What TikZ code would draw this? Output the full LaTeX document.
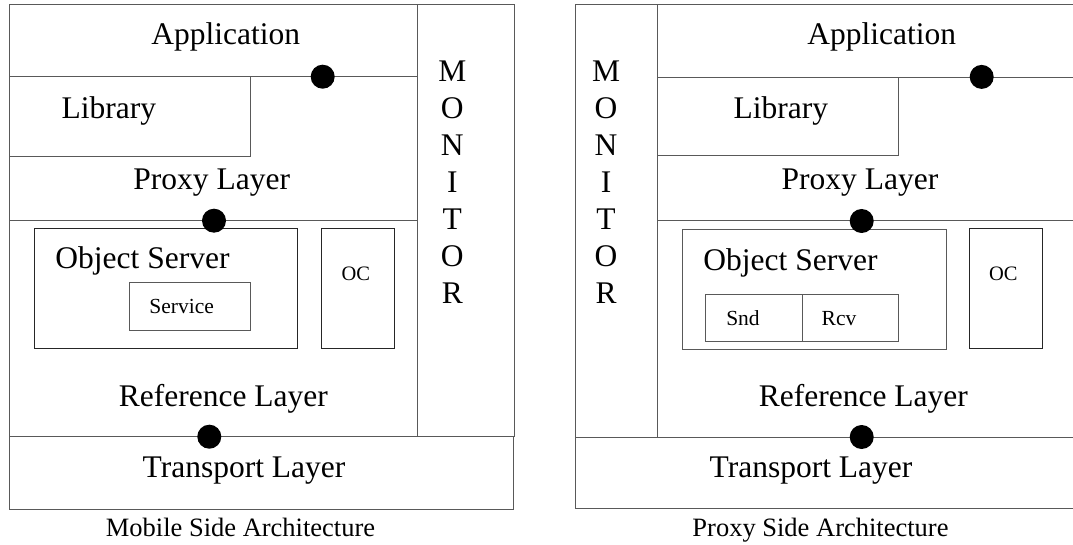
\documentclass[tikz,border=0pt]{standalone}
\usepackage{fontspec}
\setmainfont{Liberation Serif}
\begin{document}
\begin{tikzpicture}[x=1pt,y=-1pt,
  frame/.style={draw=black!65,line width=1pt},
  inner/.style={draw=black!85,line width=1pt},
  big/.style={font=\fontsize{31.5}{36}\selectfont,anchor=base,inner sep=0pt},
  small/.style={font=\fontsize{21.5}{24}\selectfont,anchor=base,inner sep=0pt},
  caption/.style={font=\fontsize{26.5}{30}\selectfont,anchor=base,inner sep=0pt},
  joint/.style={circle,fill=black,inner sep=0pt,minimum size=24pt}]
\useasboundingbox (0,0) rectangle (1073,545);
\clip (0,0) rectangle (1073,545);

% ---------------- Mobile side ----------------
\draw[frame] (9,4.7) rectangle (417.7,436.7);
\draw[frame] (9,76.7) -- (417.7,76.7);
\draw[frame] (9,76.7) rectangle (250,157);
\draw[frame] (9,220.7) -- (417.7,220.7);
\draw[frame] (417.7,5) rectangle (514.3,436.7);
\draw[frame] (9,436.7) rectangle (513.3,509);
\draw[inner] (34,228.7) rectangle (297.7,348.3);
\draw[inner] (321.7,228.7) rectangle (394,348.3);
\draw[frame] (129.7,282.7) rectangle (250,330.7);

\node[big] (mApp) at (225.8,45) {Application};
\node[big] (mLib) at (108.8,118.3) {Library};
\node[big] (mProxy) at (211.7,190) {Proxy Layer};
\node[big] (mObj) at (142.5,268.3) {Object Server};
\node[small] (mSvc) at (181.7,313.3) {Service};
\node[small,font=\fontsize{20.5}{24}\selectfont] (mOC) at (355.8,280.7) {OC};
\node[big] (mRef) at (223.3,406.7) {Reference Layer};
\node[big] (mTrans) at (244,477.7) {Transport Layer};
\node[caption] (mCap) at (240.5,536.7) {Mobile Side Architecture};
\foreach \l [count=\i from 0] in {M,O,N,I,T,O,R}
  \node[big] (mMon\i) at (452.3,81.8+36.9*\i) {\l};

\node[joint] (mJ1) at (322.7,76.7) {};
\node[joint] (mJ2) at (214,220.7) {};
\node[joint] (mJ3) at (209.3,436.7) {};

% ---------------- Proxy side ----------------
\draw[frame] (657.7,4.7) -- (1090,4.7);
\draw[frame] (657.7,77.3) -- (1090,77.3);
\draw[frame] (657.7,77.3) rectangle (898.3,155.3);
\draw[frame] (657.7,221) -- (1090,221);
\draw[frame] (575,4.7) rectangle (657.7,437);
\draw[frame] (575,437) -- (1090,437);
\draw[frame] (575,437) -- (575,508.7) -- (1090,508.7);
\draw[frame] (682,229.3) rectangle (946.7,349.3);
\draw[inner] (969.3,228.4) rectangle (1042.7,348.3);
\draw[frame] (705.7,294) rectangle (898.3,341.7);
\draw[frame] (802,294) -- (802,341.7);

\node[big] (pApp) at (881.7,45) {Application};
\node[big] (pLib) at (780.8,118.3) {Library};
\node[big] (pProxy) at (860,190) {Proxy Layer};
\node[big] (pObj) at (790.5,270) {Object Server};
\node[small] (pSnd) at (743,325) {Snd};
\node[small] (pRcv) at (839,325) {Rcv};
\node[small,font=\fontsize{20.5}{24}\selectfont] (pOC) at (1003.3,280.8) {OC};
\node[big] (pRef) at (863.3,406.7) {Reference Layer};
\node[big] (pTrans) at (811,477.7) {Transport Layer};
\node[caption] (pCap) at (820.5,536.7) {Proxy Side Architecture};
\foreach \l [count=\i from 0] in {M,O,N,I,T,O,R}
  \node[big] (pMon\i) at (606,81.7+36.9*\i) {\l};

\node[joint] (pJ1) at (981.7,76.9) {};
\node[joint] (pJ2) at (861.7,221) {};
\node[joint] (pJ3) at (861.7,437) {};
\end{tikzpicture}
\end{document}
